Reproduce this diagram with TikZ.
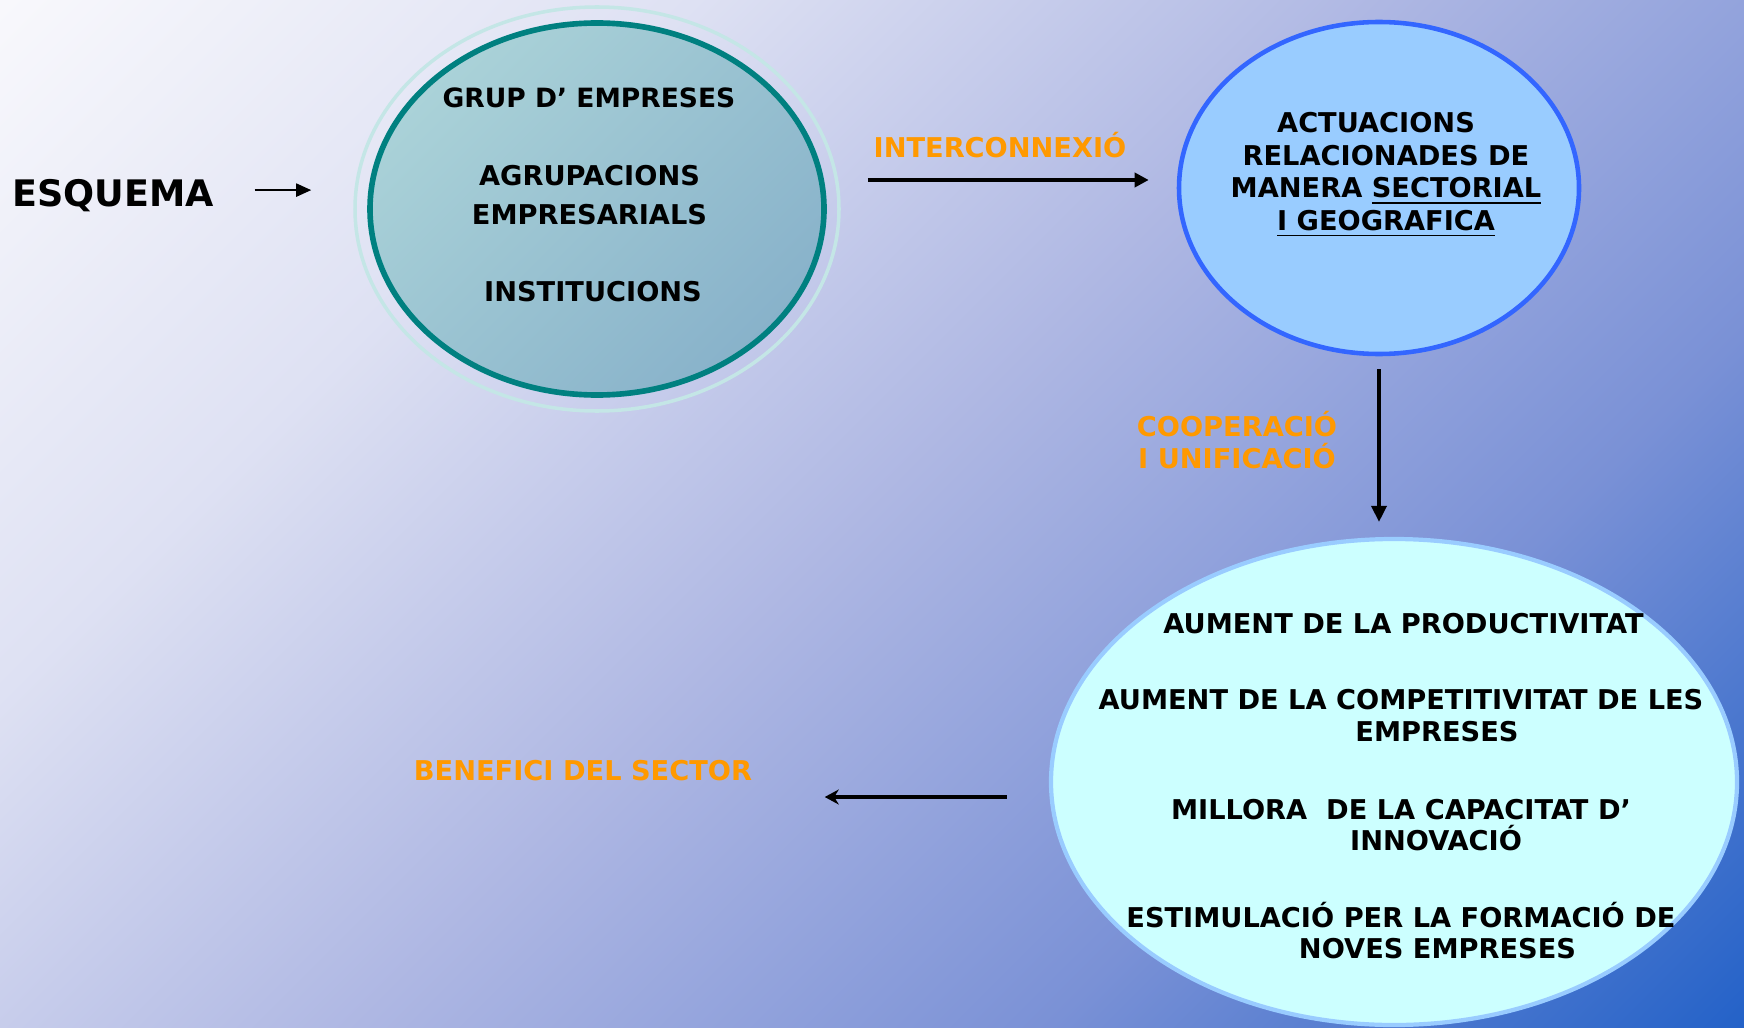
\documentclass[tikz,border=0pt]{standalone}
\usepackage{fontspec}
\setmainfont{DejaVu Sans}
\usetikzlibrary{shapes.geometric, arrows.meta}

\definecolor{fons0}{HTML}{F8F8FC}
\definecolor{fons1}{HTML}{DEE1F3}
\definecolor{fons2}{HTML}{AEB7E3}
\definecolor{fons3}{HTML}{7A91D6}
\definecolor{fons4}{HTML}{2462C8}
\definecolor{taronja}{HTML}{FF9900}
\definecolor{verdfosc}{HTML}{008080}
\definecolor{anell}{HTML}{C4E6E6}
\definecolor{grupa}{HTML}{AAD2D8}
\definecolor{grupb}{HTML}{88B2CA}
\definecolor{blauvora}{HTML}{3366FF}
\definecolor{blaucel}{HTML}{99CCFF}
\definecolor{cian}{HTML}{CCFFFF}

\pgfdeclarehorizontalshading{fons}{100bp}{color(0bp)=(fons0); color(14.6bp)=(fons0); color(32.3bp)=(fons1); color(50bp)=(fons2); color(67.7bp)=(fons3); color(85.4bp)=(fons4); color(100bp)=(fons4)}

\tikzstyle{anella} = [ellipse, draw=anell, line width=1pt, minimum width=4.84cm, minimum height=4.04cm]
\tikzstyle{grup} = [ellipse, draw=verdfosc, line width=1.6pt, left color=grupa, right color=grupb, shading angle=45, minimum width=4.54cm, minimum height=3.72cm]
\tikzstyle{accio} = [ellipse, draw=blauvora, fill=blaucel, line width=1.3pt, minimum width=4cm, minimum height=3.32cm]
\tikzstyle{efecte} = [ellipse, draw=blaucel, fill=cian, line width=1.2pt, minimum width=6.86cm, minimum height=4.86cm]
\tikzstyle{txt} = [font=\fontsize{7.75}{9.3}\selectfont\bfseries, inner sep=0pt, anchor=base]
\tikzstyle{enllac} = [txt, text=taronja]
\tikzstyle{fletxa} = [-{Triangle[length=0.14cm, width=0.14cm]}, line width=1.1pt]

\begin{document}
\begin{tikzpicture}
\useasboundingbox (0,0) rectangle (17.44,-10.28);
\shade[shading=fons, shading angle=-45] (0,0) rectangle (17.44,-10.28);

\node (esq) [txt, font=\fontsize{10.4}{12}\selectfont\bfseries] at (1.13,-2.065) {ESQUEMA};

\node (grpring) [anella] at (5.97,-2.09) {};
\node (grp) [grup] at (5.97,-2.09) {};
\node (g1) [txt, font=\fontsize{7.55}{9.3}\selectfont\bfseries] at (5.89,-1.08) {GRUP D’ EMPRESES};
\node (g2) [txt] at (5.895,-1.85) {AGRUPACIONS};
\node (g3) [txt] at (5.895,-2.24) {EMPRESARIALS};
\node (g4) [txt] at (5.93,-3.01) {INSTITUCIONS};

\node (act) [accio] at (13.79,-1.88) {};
\node (a1) [txt] at (13.76,-1.33) {ACTUACIONS};
\node (a2) [txt] at (13.86,-1.655) {RELACIONADES DE};
\node (a3) [txt] at (13.86,-1.975) {MANERA \underline{SECTORIAL}};
\node (a4) [txt] at (13.86,-2.30) {\underline{I GEOGRAFICA}};

\node (efectes) [efecte] at (13.94,-7.82) {};
\node (e1) [txt] at (14.035,-6.33) {AUMENT DE LA PRODUCTIVITAT};
\node (e2) [txt] at (14.01,-7.09) {AUMENT DE LA COMPETITIVITAT DE LES};
\node (e3) [txt] at (14.37,-7.415) {EMPRESES};
\node (e4) [txt] at (14.01,-8.19) {MILLORA~ DE LA CAPACITAT D’};
\node (e5) [txt] at (14.36,-8.505) {INNOVACIÓ};
\node (e6) [txt] at (14.01,-9.27) {ESTIMULACIÓ PER LA FORMACIÓ DE};
\node (e7) [txt] at (14.375,-9.58) {NOVES EMPRESES};

\node (inter) [enllac] at (10.00,-1.58) {INTERCONNEXIÓ};
\node (coop1) [enllac] at (12.37,-4.36) {COOPERACIÓ};
\node (coop2) [enllac] at (12.37,-4.68) {I UNIFICACIÓ};
\node (sector) [enllac] at (5.83,-7.80) {BENEFICI DEL SECTOR};

% connectors
\coordinate (esqfil) at ([yshift=0.055cm]esq.east);
\coordinate (intfil) at ([yshift=-0.22cm]inter.base);
\coordinate (secfil) at ([yshift=-0.15cm]efectes.west);

\draw [fletxa, line width=0.6pt, -{Triangle[length=0.15cm, width=0.13cm]}, shorten <=0.40cm, shorten >=0.42cm] (esqfil) -- (esqfil -| grpring.west);
\draw [fletxa, shorten <=0.27cm, shorten >=0.28cm] (intfil -| grpring.east) -- (intfil -| act.west);
\draw [fletxa, line width=1pt, -{Triangle[length=0.16cm, width=0.15cm]}, shorten <=0.13cm, shorten >=0.15cm] (act.south) -- (act.south |- efectes.north);
\draw [fletxa, line width=1.2pt, -{Stealth[length=0.14cm, width=0.15cm]}, shorten <=0.42cm, shorten >=0.72cm] (secfil) -- (secfil -| sector.east);

\end{tikzpicture}
\end{document}
